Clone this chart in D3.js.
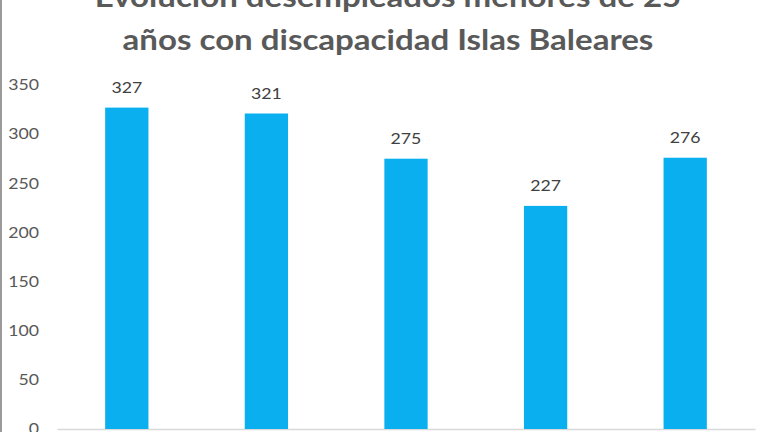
<!DOCTYPE html>
<html>
<head>
<meta charset="utf-8">
<script src="https://cdn.jsdelivr.net/npm/d3@7"></script>
<style>
  html, body { margin: 0; padding: 0; background: #fff; }
  svg { display: block; font-family: Lato, "Open Sans", sans-serif; }
</style>
</head>
<body>
<div id="chart"></div>
<script>
// Data.
const categories = ["2011", "2012", "2013", "2014", "2015"];
const values = [327, 321, 275, 227, 276];
const yTicks = [0, 50, 100, 150, 200, 250, 300, 350];
const titleLines = ["Evolución desempleados menores de 25", "años con discapacidad Islas Baleares"];

// Canvas dimensions.
const width = 768, height = 432;

// The source picture is a bit stretched sideways, so text gets a horizontal scale.
const stretch = 1.18;

const svg = d3.select("#chart").append("svg")
    .attr("width", width)
    .attr("height", height);

// Scales.
const x = d3.scaleBand()
    .domain(categories)
    .range([57, 755])
    .paddingInner(0.69)
    .paddingOuter(0.345);

const y = d3.scaleLinear()
    .domain([0, 350])
    .range([429, 85]);

// Left frame edge.
svg.append("line")
    .attr("x1", 1).attr("x2", 1)
    .attr("y1", 0).attr("y2", height)
    .style("stroke", "#9a9a9a")
    .style("stroke-width", 2);

// Title.
svg.append("g")
    .selectAll("text")
    .data(titleLines)
    .join("text")
        .attr("transform", (d, i) => "translate(388, " + (7 + i * 43) + ") scale(" + stretch + ", 1)")
        .attr("text-anchor", "middle")
        .style("font-size", "28px")
        .style("font-weight", "bold")
        .style("fill", "#595959")
        .text(d => d);

// Y axis labels only, no line.
const yAxis = svg.append("g")
    .attr("transform", "translate(39, 0)")
    .call(d3.axisLeft(y).tickValues(yTicks).tickSize(0).tickPadding(0));

yAxis.select(".domain").remove();
yAxis.selectAll("text")
    .attr("x", 0)
    .attr("transform", "scale(" + stretch + ", 1)")
    .style("font-family", "Lato, 'Open Sans', sans-serif")
    .style("font-size", "15px")
    .style("fill", "#595959");

// Category axis line.
const xAxis = svg.append("g")
    .attr("transform", "translate(0, " + y(0) + ")")
    .call(d3.axisBottom(x).tickSize(0).tickFormat(""));

xAxis.select(".domain")
    .style("stroke", "#d9d9d9")
    .style("stroke-width", 1.5);

// Bars.
svg.append("g")
    .selectAll("rect")
    .data(values)
    .join("rect")
        .attr("x", (d, i) => x(categories[i]))
        .attr("y", d => y(d))
        .attr("width", x.bandwidth())
        .attr("height", d => y(0) - y(d))
        .style("fill", "#0aaff0");

// Value labels.
svg.append("g")
    .selectAll("text")
    .data(values)
    .join("text")
        .attr("transform", (d, i) => "translate(" + (x(categories[i]) + x.bandwidth() / 2) + ", " + (y(d) - 15) + ") scale(" + stretch + ", 1)")
        .attr("text-anchor", "middle")
        .style("font-size", "15px")
        .style("fill", "#404040")
        .text(d => d);
</script>
</body>
</html>
